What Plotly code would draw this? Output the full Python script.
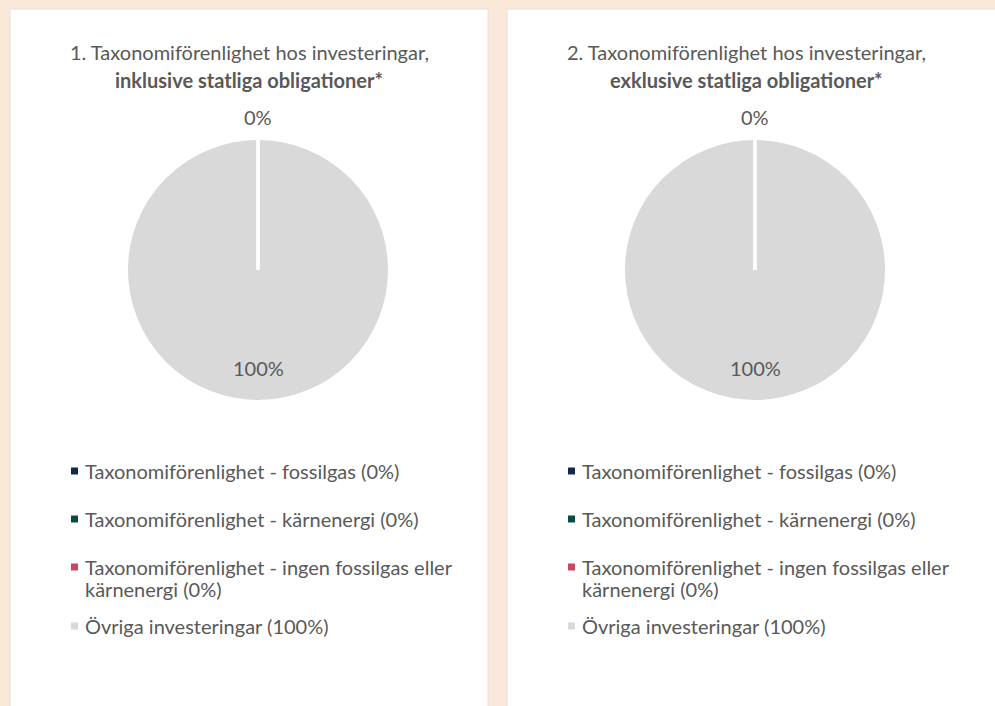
import math
import plotly.graph_objects as go

# ---------------- data ----------------
categories = [
    "Taxonomiförenlighet - fossilgas",
    "Taxonomiförenlighet - kärnenergi",
    "Taxonomiförenlighet - ingen fossilgas eller<br>kärnenergi",
    "Övriga investeringar",
]
values_incl = [0, 0, 0, 100]
values_excl = [0, 0, 0, 100]
colors = ["#13294B", "#0A4C42", "#C8485E", "#D9D9D9"]
title_line1 = [
    "1. Taxonomiförenlighet hos investeringar,",
    "2. Taxonomiförenlighet hos investeringar,",
]
title_line2 = [
    "inklusive statliga obligationer*",
    "exklusive statliga obligationer*",
]

# ---------------- layout constants ----------------
W, H = 995, 706
FONT = "Lato"
TXT = "#595959"
BG = "#FAE8D8"
panels = [(10, 488), (507, 1000)]      # panel x extents in px
pie_cx = [258, 755]
pie_cy = 270
R = 131
TITLE_SIZE = 20
LEG_SIZE = 20
PCT_SIZE = 20


def px(x):
    return x / W


def py(y):
    return 1 - y / H


fig = go.Figure()
shapes = []
annotations = []

for k, vals in enumerate([values_incl, values_excl]):
    x0p, x1p = panels[k]
    shapes.append(dict(type="rect", xref="paper", yref="paper",
                       x0=px(x0p), x1=px(x1p), y0=-0.05, y1=py(9),
                       fillcolor="white", line=dict(color="#E2E2E2", width=1),
                       layer="below"))
    cx, cy = pie_cx[k], pie_cy
    fig.add_trace(go.Pie(
        labels=[c.replace("<br>", " ") for c in categories],
        values=vals,
        marker=dict(colors=colors, line=dict(color="white", width=2)),
        sort=False, direction="clockwise", rotation=0,
        textinfo="none", hoverinfo="label+percent",
        showlegend=False,
        domain=dict(x=[px(cx - R), px(cx + R)], y=[py(cy + R), py(cy - R)]),
    ))
    total = sum(vals)
    cum = 0
    seen = set()
    for v in vals:
        a0 = cum / total * 2 * math.pi
        if v == 0:
            # border of a zero-width slice: white radial line at its angle
            shapes.append(dict(type="line", xref="paper", yref="paper",
                               x0=px(cx), y0=py(cy),
                               x1=px(cx + R * math.sin(a0)),
                               y1=py(cy - R * math.cos(a0)),
                               line=dict(color="white", width=3)))
        mid = (cum + v / 2) / total * 2 * math.pi
        rf = 1.17 if v / total < 0.05 else 0.75
        lx = cx + rf * R * math.sin(mid)
        ly = cy - rf * R * math.cos(mid)
        key = (round(lx), round(ly))
        if key not in seen:
            seen.add(key)
            annotations.append(dict(
                x=px(lx), y=py(ly), xref="paper", yref="paper",
                text=f"{v / total * 100:.0f}%", showarrow=False,
                font=dict(family=FONT, size=PCT_SIZE, color=TXT),
                xanchor="center", yanchor="middle"))
        cum += v

    # title
    tcx = (x0p + (488 if k == 0 else 985)) / 2
    annotations.append(dict(x=px(tcx), y=py(52), xref="paper", yref="paper",
                            text=title_line1[k], showarrow=False,
                            font=dict(family=FONT, size=TITLE_SIZE, color=TXT),
                            xanchor="center", yanchor="middle"))
    annotations.append(dict(x=px(tcx), y=py(80), xref="paper", yref="paper",
                            text=f"<b>{title_line2[k]}</b>", showarrow=False,
                            font=dict(family=FONT, size=TITLE_SIZE, color=TXT),
                            xanchor="center", yanchor="middle"))

    # legend
    lx0 = x0p + 61
    yy = 471
    prev_extra = 0
    for i, (name, v, col) in enumerate(zip(categories, vals, colors)):
        lines = f"{name} ({v / total * 100:.0f}%)".split("<br>")
        if i > 0:
            yy += 48 + 11 * prev_extra
        prev_extra = len(lines) - 1
        shapes.append(dict(type="rect", xref="paper", yref="paper",
                           x0=px(lx0), x1=px(lx0 + 7),
                           y0=py(yy + 3.5), y1=py(yy - 3.5),
                           fillcolor=col, line=dict(width=0)))
        for j, ln in enumerate(lines):
            annotations.append(dict(
                x=px(lx0 + 12), y=py(yy + 22 * j), xref="paper", yref="paper",
                text=ln, showarrow=False,
                font=dict(family=FONT, size=LEG_SIZE, color=TXT),
                xanchor="left", yanchor="middle", align="left"))

fig.update_layout(
    width=W, height=H,
    margin=dict(l=0, r=0, t=0, b=0),
    paper_bgcolor=BG, plot_bgcolor=BG,
    shapes=shapes, annotations=annotations,
    font=dict(family=FONT, color=TXT),
)
fig.write_html("out.html")
